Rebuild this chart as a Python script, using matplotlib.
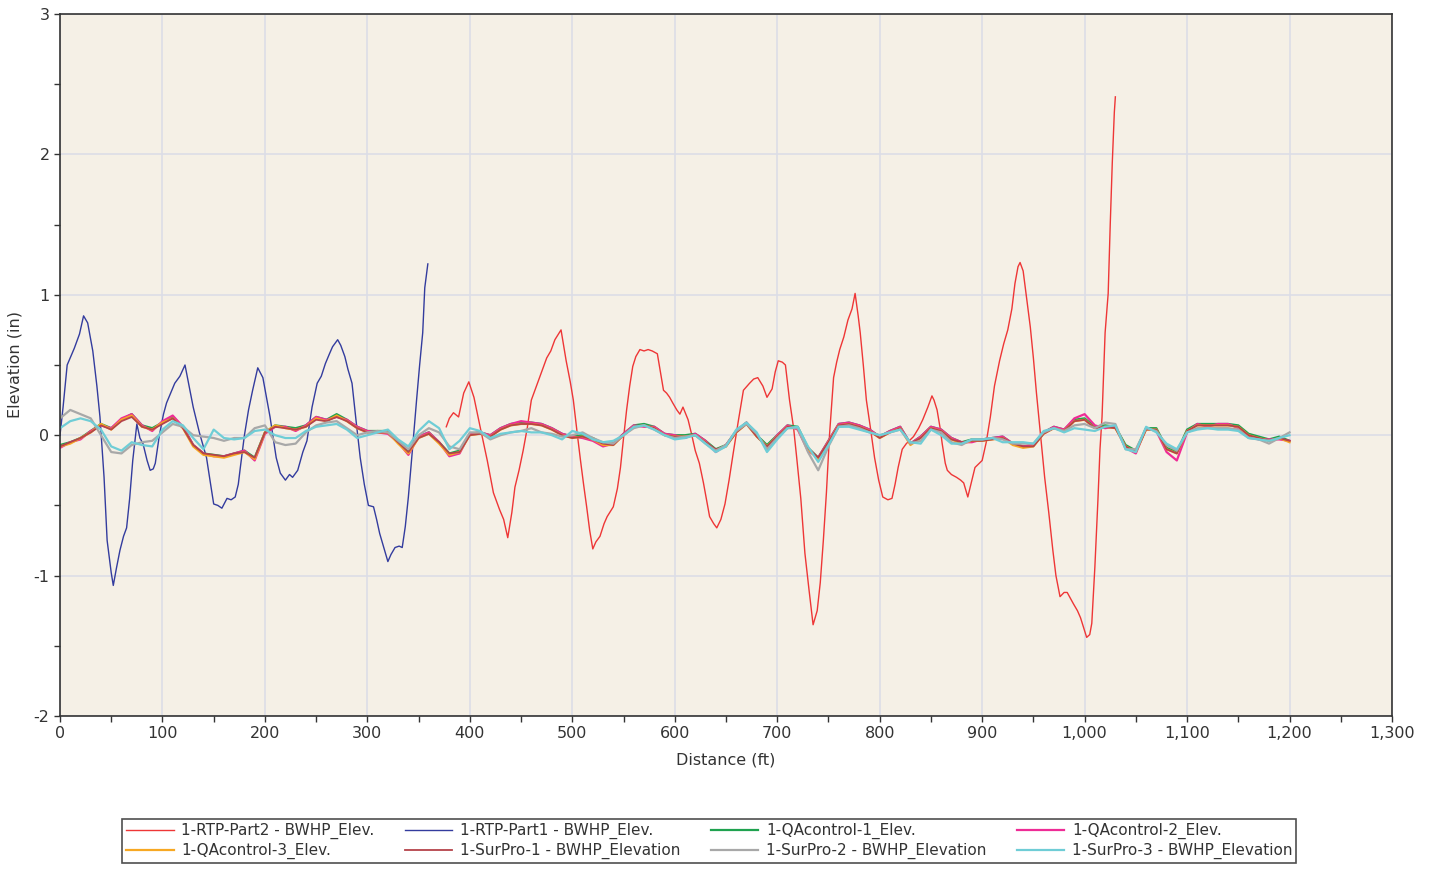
import numpy as np
import matplotlib
matplotlib.use('Agg')
import matplotlib.pyplot as plt
from matplotlib.ticker import MultipleLocator, FuncFormatter

# RTP runs: distance (ft) / elevation (in) pairs
rtp1_dist = [0, 3, 7, 14, 19, 23, 27, 32, 36, 39, 43, 46, 50, 52, 55, 58.5, 62, 65, 68, 71,
             75, 78, 81, 85, 88, 91, 93, 97, 101, 104, 108, 112, 117, 122, 126, 130, 136, 143,
             147, 150, 154, 158, 163, 167, 171, 174, 176, 180, 184, 188, 193, 198, 202, 205,
             211, 215, 220, 224, 227, 232, 237, 241, 246, 251, 255, 259, 263, 266, 271, 274,
             278, 281, 285, 289, 293, 297, 301, 306, 309, 312, 316, 320, 323, 327, 331, 334,
             337, 340, 344, 348, 351, 354, 356, 359]
rtp1_elev = [0.0, 0.2, 0.5, 0.62, 0.72, 0.85, 0.8, 0.6, 0.35, 0.13, -0.3, -0.75, -0.98, -1.07,
             -0.95, -0.82, -0.72, -0.66, -0.45, -0.18, 0.08, -0.02, -0.06, -0.18, -0.25, -0.24,
             -0.2, 0.0, 0.15, 0.23, 0.3, 0.37, 0.42, 0.5, 0.35, 0.2, 0.02, -0.16, -0.35, -0.49,
             -0.5, -0.52, -0.45, -0.46, -0.44, -0.35, -0.23, 0.0, 0.18, 0.32, 0.48, 0.41, 0.25,
             0.13, -0.16, -0.27, -0.32, -0.28, -0.3, -0.25, -0.12, -0.04, 0.2, 0.37, 0.42, 0.51,
             0.58, 0.63, 0.68, 0.64, 0.56, 0.47, 0.37, 0.1, -0.16, -0.35, -0.5, -0.51, -0.6,
             -0.7, -0.8, -0.9, -0.85, -0.8, -0.79, -0.8, -0.65, -0.44, -0.1, 0.25, 0.5, 0.73,
             1.05, 1.22]

rtp2_dist = [377, 380, 384, 389, 394, 399, 404, 410, 417, 423, 429, 433, 437, 441, 444, 448,
             452, 456, 460, 464, 468, 475, 479, 483, 489, 494, 498, 501, 505, 508, 511, 514,
             517, 520, 523, 527, 531, 534, 540, 544, 547, 550, 553, 556, 559, 562, 566, 570,
             574, 578, 583, 586, 589, 592, 595, 598, 602, 605, 608, 613, 616, 620, 624, 628,
             631, 634, 638, 641, 645, 649, 653, 657, 662, 667, 673, 677, 681, 686, 690, 695,
             698, 701, 705, 708, 712, 716, 719, 723, 727, 731, 735, 739, 742, 745, 748, 751,
             755, 758, 761, 765, 769, 773, 776, 779, 781, 784, 787, 791, 795, 799, 803, 808,
             812, 815, 818, 822, 826, 833, 838, 842, 847, 851, 853, 856, 859, 861, 864, 866,
             870, 875, 879, 882, 886, 889, 893, 900, 904, 908, 912, 917, 921, 925, 929, 932,
             935, 937, 940, 943, 947, 950, 953, 957, 961, 965, 969, 972, 976, 980, 983, 986,
             989, 993, 996, 999, 1002, 1005, 1007, 1010, 1013, 1015, 1017, 1020, 1023, 1025,
             1027, 1029, 1030]
rtp2_elev = [0.06, 0.12, 0.16, 0.13, 0.3, 0.38, 0.27, 0.06, -0.18, -0.41, -0.53, -0.6, -0.73,
             -0.55, -0.37, -0.25, -0.11, 0.05, 0.25, 0.33, 0.41, 0.55, 0.6, 0.68, 0.75, 0.53,
             0.38, 0.25, 0.0, -0.18, -0.35, -0.51, -0.68, -0.81, -0.76, -0.72, -0.63, -0.58,
             -0.51, -0.38, -0.23, -0.02, 0.18, 0.35, 0.49, 0.56, 0.61, 0.6, 0.61, 0.6, 0.58,
             0.45, 0.32, 0.3, 0.27, 0.23, 0.18, 0.15, 0.2, 0.11, 0.02, -0.11, -0.2, -0.34,
             -0.46, -0.58, -0.63, -0.66, -0.6, -0.49, -0.32, -0.13, 0.1, 0.32, 0.37, 0.4, 0.41,
             0.35, 0.27, 0.33, 0.45, 0.53, 0.52, 0.5, 0.25, 0.05, -0.16, -0.45, -0.84, -1.1,
             -1.35, -1.25, -1.05, -0.75, -0.41, 0.0, 0.41, 0.52, 0.61, 0.7, 0.82, 0.9, 1.01,
             0.85, 0.73, 0.5, 0.25, 0.05, -0.16, -0.32, -0.44, -0.46, -0.45, -0.35, -0.23, -0.1,
             -0.06, -0.01, 0.05, 0.11, 0.2, 0.28, 0.25, 0.18, 0.05, -0.06, -0.2, -0.25, -0.28,
             -0.3, -0.32, -0.34, -0.44, -0.35, -0.23, -0.18, -0.05, 0.13, 0.35, 0.53, 0.65,
             0.75, 0.9, 1.08, 1.2, 1.23, 1.17, 1.0, 0.77, 0.55, 0.3, 0.0, -0.3, -0.55, -0.82,
             -1.0, -1.15, -1.12, -1.12, -1.16, -1.2, -1.25, -1.3, -1.37, -1.44, -1.42, -1.34,
             -0.94, -0.46, -0.1, 0.13, 0.73, 1.01, 1.5, 1.94, 2.3, 2.41]

# control / profiler runs, sampled every 10 ft from 0 to 1200
qa1_elev = [-0.07, -0.05, -0.02, 0.03, 0.08, 0.05, 0.11, 0.15, 0.07, 0.05,
            0.09, 0.13, 0.06, -0.07, -0.13, -0.14, -0.15, -0.13, -0.11, -0.16,
            0.02, 0.07, 0.06, 0.05, 0.07, 0.13, 0.11, 0.15, 0.11, 0.06,
            0.03, 0.03, 0.03, -0.05, -0.12, -0.01, 0.02, -0.05, -0.13, -0.11,
            0.01, 0.02, 0.00, 0.05, 0.08, 0.09, 0.09, 0.08, 0.05, 0.01,
            -0.01, 0.00, -0.02, -0.06, -0.06, 0.01, 0.07, 0.08, 0.06, 0.01,
            0.00, 0.00, 0.01, -0.04, -0.10, -0.07, 0.03, 0.09, 0.00, -0.07,
            0.00, 0.07, 0.06, -0.09, -0.16, -0.04, 0.08, 0.09, 0.07, 0.04,
            -0.01, 0.03, 0.06, -0.06, -0.01, 0.06, 0.04, -0.02, -0.05, -0.03,
            -0.03, -0.02, -0.01, -0.06, -0.08, -0.07, 0.02, 0.06, 0.04, 0.11,
            0.12, 0.06, 0.07, 0.06, -0.07, -0.11, 0.05, 0.05, -0.09, -0.12,
            0.04, 0.08, 0.08, 0.08, 0.08, 0.07, 0.01, -0.01, -0.03, -0.01,
            -0.04]
qa2_elev = [-0.09, -0.05, -0.03, 0.03, 0.07, 0.05, 0.12, 0.15, 0.07, 0.03,
            0.10, 0.14, 0.06, -0.07, -0.13, -0.15, -0.15, -0.13, -0.11, -0.18,
            0.01, 0.06, 0.06, 0.03, 0.07, 0.13, 0.11, 0.13, 0.11, 0.06,
            0.03, 0.02, 0.01, -0.05, -0.14, -0.01, 0.02, -0.05, -0.15, -0.13,
            0.01, 0.02, 0.00, 0.05, 0.08, 0.10, 0.09, 0.08, 0.05, 0.01,
            -0.01, -0.02, -0.04, -0.08, -0.06, 0.01, 0.07, 0.06, 0.06, 0.01,
            0.00, -0.02, 0.01, -0.04, -0.12, -0.07, 0.03, 0.09, 0.00, -0.09,
            0.00, 0.07, 0.04, -0.11, -0.16, -0.04, 0.08, 0.09, 0.07, 0.04,
            -0.01, 0.03, 0.06, -0.06, -0.01, 0.06, 0.04, -0.02, -0.05, -0.05,
            -0.03, -0.02, -0.01, -0.06, -0.08, -0.07, 0.02, 0.06, 0.04, 0.12,
            0.15, 0.07, 0.05, 0.06, -0.09, -0.13, 0.05, 0.03, -0.12, -0.18,
            0.02, 0.08, 0.06, 0.08, 0.08, 0.05, -0.01, -0.03, -0.03, -0.03,
            -0.04]
qa3_elev = [-0.08, -0.06, -0.02, 0.02, 0.08, 0.04, 0.11, 0.14, 0.06, 0.04,
            0.09, 0.12, 0.05, -0.08, -0.14, -0.15, -0.16, -0.14, -0.12, -0.17,
            0.02, 0.07, 0.05, 0.04, 0.06, 0.12, 0.10, 0.14, 0.10, 0.05,
            0.02, 0.02, 0.02, -0.06, -0.13, -0.02, 0.01, -0.06, -0.14, -0.12,
            0.00, 0.01, -0.01, 0.04, 0.07, 0.08, 0.08, 0.07, 0.04, 0.00,
            -0.02, -0.01, -0.03, -0.07, -0.07, 0.00, 0.06, 0.07, 0.05, 0.00,
            -0.01, -0.01, 0.00, -0.05, -0.11, -0.08, 0.02, 0.08, -0.01, -0.08,
            -0.01, 0.06, 0.05, -0.10, -0.17, -0.05, 0.07, 0.08, 0.06, 0.03,
            -0.02, 0.02, 0.05, -0.07, -0.02, 0.05, 0.03, -0.03, -0.06, -0.04,
            -0.04, -0.03, -0.02, -0.07, -0.09, -0.08, 0.01, 0.05, 0.03, 0.10,
            0.11, 0.05, 0.06, 0.05, -0.08, -0.12, 0.04, 0.04, -0.10, -0.13,
            0.03, 0.07, 0.07, 0.07, 0.07, 0.06, 0.00, -0.02, -0.04, -0.02,
            -0.05]
sp1_elev = [-0.08, -0.05, -0.02, 0.02, 0.07, 0.04, 0.10, 0.13, 0.06, 0.04,
            0.08, 0.12, 0.05, -0.07, -0.13, -0.14, -0.15, -0.13, -0.12, -0.16,
            0.02, 0.06, 0.05, 0.04, 0.06, 0.11, 0.10, 0.13, 0.10, 0.05,
            0.02, 0.02, 0.02, -0.05, -0.12, -0.02, 0.01, -0.05, -0.13, -0.12,
            0.00, 0.01, -0.01, 0.04, 0.07, 0.08, 0.08, 0.07, 0.04, 0.00,
            -0.02, -0.01, -0.03, -0.06, -0.07, 0.00, 0.06, 0.07, 0.05, 0.00,
            -0.01, -0.01, 0.00, -0.05, -0.10, -0.08, 0.02, 0.08, -0.01, -0.08,
            -0.01, 0.06, 0.05, -0.09, -0.16, -0.05, 0.07, 0.08, 0.06, 0.03,
            -0.02, 0.02, 0.05, -0.06, -0.02, 0.05, 0.03, -0.03, -0.05, -0.04,
            -0.04, -0.03, -0.02, -0.06, -0.08, -0.08, 0.01, 0.05, 0.03, 0.10,
            0.11, 0.05, 0.06, 0.05, -0.08, -0.12, 0.04, 0.04, -0.10, -0.13,
            0.03, 0.07, 0.07, 0.07, 0.07, 0.06, 0.00, -0.02, -0.04, -0.02,
            -0.04]
sp2_elev = [0.12, 0.18, 0.15, 0.12, 0.00, -0.12, -0.13, -0.07, -0.05, -0.04,
            0.02, 0.08, 0.06, 0.00, -0.01, -0.02, -0.04, -0.02, -0.02, 0.05,
            0.07, -0.05, -0.07, -0.06, 0.02, 0.07, 0.09, 0.10, 0.05, 0.00,
            0.02, 0.03, 0.02, -0.04, -0.10, 0.00, 0.05, 0.02, -0.08, -0.10,
            0.02, 0.02, -0.03, 0.00, 0.02, 0.03, 0.05, 0.02, 0.01, -0.01,
            0.00, 0.02, -0.02, -0.05, -0.06, 0.00, 0.05, 0.07, 0.04, 0.00,
            -0.02, -0.01, 0.00, -0.06, -0.11, -0.07, 0.03, 0.08, 0.01, -0.10,
            -0.02, 0.05, 0.05, -0.12, -0.25, -0.08, 0.06, 0.07, 0.05, 0.02,
            0.00, 0.02, 0.04, -0.06, -0.04, 0.04, 0.02, -0.05, -0.07, -0.03,
            -0.03, -0.02, -0.03, -0.06, -0.06, -0.06, 0.02, 0.05, 0.03, 0.07,
            0.08, 0.05, 0.09, 0.08, -0.10, -0.10, 0.05, 0.03, -0.07, -0.11,
            0.02, 0.05, 0.05, 0.05, 0.05, 0.04, -0.02, -0.03, -0.06, -0.02,
            0.02]
sp3_elev = [0.05, 0.10, 0.12, 0.10, 0.04, -0.08, -0.11, -0.05, -0.07, -0.08,
            0.04, 0.10, 0.07, -0.02, -0.10, 0.04, -0.02, -0.03, -0.02, 0.03,
            0.04, 0.00, -0.02, -0.02, 0.03, 0.06, 0.07, 0.08, 0.04, -0.02,
            0.00, 0.02, 0.04, -0.03, -0.08, 0.03, 0.10, 0.05, -0.10, -0.04,
            0.05, 0.03, -0.02, 0.01, 0.02, 0.03, 0.02, 0.02, 0.00, -0.03,
            0.03, 0.01, -0.03, -0.05, -0.04, 0.00, 0.06, 0.07, 0.04, 0.00,
            -0.03, -0.02, 0.00, -0.06, -0.12, -0.08, 0.04, 0.09, 0.02, -0.12,
            -0.03, 0.05, 0.06, -0.08, -0.19, -0.07, 0.06, 0.06, 0.04, 0.02,
            0.00, 0.02, 0.04, -0.05, -0.06, 0.04, 0.00, -0.06, -0.06, -0.03,
            -0.03, -0.02, -0.05, -0.05, -0.05, -0.06, 0.03, 0.05, 0.02, 0.05,
            0.04, 0.03, 0.06, 0.07, -0.10, -0.12, 0.06, 0.02, -0.06, -0.10,
            0.02, 0.04, 0.05, 0.04, 0.04, 0.03, -0.02, -0.03, -0.04, -0.02,
            0.00]

sample_dist = np.arange(0, 1201, 10)

series = [
    ('1-RTP-Part2 - BWHP_Elev.', rtp2_dist, rtp2_elev, '#ee3636', 1.0),
    ('1-RTP-Part1 - BWHP_Elev.', rtp1_dist, rtp1_elev, '#333c9e', 1.0),
    ('1-QAcontrol-1_Elev.', sample_dist, qa1_elev, '#1fa24f', 1.6),
    ('1-QAcontrol-2_Elev.', sample_dist, qa2_elev, '#ee2c96', 1.6),
    ('1-QAcontrol-3_Elev.', sample_dist, qa3_elev, '#f7a823', 1.6),
    ('1-SurPro-1 - BWHP_Elevation', sample_dist, sp1_elev, '#b5434a', 1.3),
    ('1-SurPro-2 - BWHP_Elevation', sample_dist, sp2_elev, '#a8a8a8', 1.6),
    ('1-SurPro-3 - BWHP_Elevation', sample_dist, sp3_elev, '#6fcdd6', 1.6),
]

plt.rcParams['font.family'] = 'DejaVu Sans'

fig = plt.figure(figsize=(14.36, 8.69), dpi=100)
ax = fig.add_axes([60 / 1436, 153 / 869, 1332 / 1436, 702 / 869])
ax.set_facecolor('#f5f0e6')

handles = []
for label, xs, ys, color, lw in series:
    h, = ax.plot(xs, ys, color=color, linewidth=lw, label=label)
    handles.append(h)

ax.set_xlim(0, 1300)
ax.set_ylim(-2, 3)
ax.xaxis.set_major_locator(MultipleLocator(100))
ax.xaxis.set_minor_locator(MultipleLocator(50))
ax.yaxis.set_major_locator(MultipleLocator(1))
ax.yaxis.set_minor_locator(MultipleLocator(0.5))
ax.xaxis.set_major_formatter(FuncFormatter(lambda v, p: f'{v:,.0f}'))
ax.yaxis.set_major_formatter(FuncFormatter(lambda v, p: f'{v:.0f}'))
ax.grid(True, which='major', color='#dcdde6', linewidth=1.2)
ax.set_axisbelow(True)
ax.tick_params(which='both', direction='out', length=4, width=1, color='#333333',
               labelsize=11.5, labelcolor='#333333')
for s in ax.spines.values():
    s.set_color('#333333')
    s.set_linewidth(1.2)

ax.set_xlabel('Distance (ft)', fontsize=11.5, color='#333333', labelpad=8)
ax.set_ylabel('Elevation (in)', fontsize=11.5, color='#333333', labelpad=8)

# legend fills column by column, so reorder to read row by row
order = [0, 4, 1, 5, 2, 6, 3, 7]
leg = fig.legend(handles=[handles[i] for i in order], loc='center',
                 bbox_to_anchor=(0.494, 0.032), ncol=4,
                 fontsize=11, frameon=True, fancybox=False, handlelength=3.1,
                 columnspacing=2.0, handletextpad=0.5, borderpad=0.25, labelspacing=0.25)
leg.get_frame().set_edgecolor('#222222')
leg.get_frame().set_linewidth(1.2)
for t in leg.get_texts():
    t.set_color('#333333')

fig.savefig('out.png', dpi=100, facecolor='white')
